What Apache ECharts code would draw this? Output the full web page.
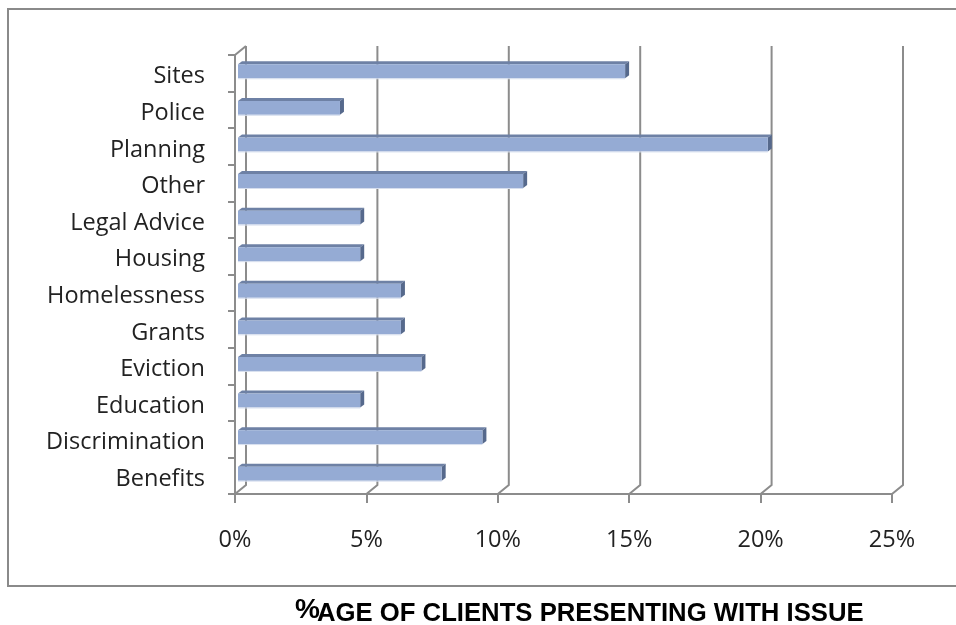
<!DOCTYPE html>
<html><head><meta charset="utf-8">
<script src="https://cdn.jsdelivr.net/npm/echarts@6/dist/echarts.min.js"></script>
<style>html,body{margin:0;padding:0;background:#fff}#c{width:956px;height:625px}</style>
</head><body><div id="c"></div>
<script>
const categories = ['Sites','Police','Planning','Other','Legal Advice','Housing','Homelessness','Grants','Eviction','Education','Discrimination','Benefits'];
const values = [14.73,3.88,20.16,10.85,4.65,4.65,6.20,6.20,6.98,4.65,9.30,7.75];
const xTicks = [0,5,10,15,20,25];
const titlePct = '%';
const titleText = 'AGE OF CLIENTS PRESENTING WITH ISSUE';

const chart = echarts.init(document.getElementById('c'), null, {renderer:'canvas'});
const DX = 11, DY = -9;      // wall depth offset
const BX = 3, BY = -2, BD = 4; // bar offsets / depth
const gridColor = '#8c8c8c';
const labelFont = {fontFamily:'Open Sans', fontSize:23.5, color:'#222'};

const option = {
  animation:false,
  grid:{left:235, top:55, width:657, height:439},
  xAxis:{type:'value', min:0, max:25, interval:5,
    axisLine:{show:true, lineStyle:{color:gridColor, width:2}},
    axisTick:{show:true, length:9, lineStyle:{color:gridColor, width:2}},
    splitLine:{show:false},
    axisLabel:Object.assign({formatter:'{value}%', margin:34}, labelFont)},
  yAxis:{type:'category', data:categories, inverse:true,
    axisLine:{show:true, lineStyle:{color:gridColor, width:2}},
    axisTick:{show:true, length:7, lineStyle:{color:gridColor, width:2}},
    axisLabel:{show:false}},
  graphic:[
    {type:'rect', shape:{x:8, y:9, width:960, height:577}, style:{fill:null, stroke:'#8a8a8a', lineWidth:2}, z:0},
    {type:'text', style:{x:295, y:610.5, text:titlePct, font:'bold 28px "Liberation Sans", Arial', fill:'#000', textAlign:'left', textVerticalAlign:'middle'}},
    {type:'text', style:{x:317, y:613.5, text:titleText, font:'bold 25.7px "Liberation Sans", Arial', fill:'#000', textAlign:'left', textVerticalAlign:'middle'}}
  ],
  series:[
    {type:'custom', coordinateSystem:'cartesian2d', silent:true, z:1,
     data: xTicks.map(v => [v, 0]),
     renderItem(params, api){
       const cs = params.coordSys;
       const v = api.value(0);
       const x = api.coord([v, 0])[0];
       const yb = cs.y + cs.height, yt = cs.y;
       const children = [{type:'polyline', shape:{points:[[x,yb],[x+DX,yb+DY],[x+DX,yt+DY]]}, style:{stroke:gridColor, lineWidth:2, fill:null}}];
       if (v === 0) children.push({type:'line', shape:{x1:x, y1:yt, x2:x+DX, y2:yt+DY}, style:{stroke:gridColor, lineWidth:2}});
       return {type:'group', children};
     }},
    {type:'custom', coordinateSystem:'cartesian2d', silent:true, z:2,
     data: categories.map((c,i) => [0, i]),
     renderItem(params, api){
       const ci = api.value(1);
       const p = api.coord([0, ci]);
       return {type:'text', style:{x:p[0]-30, y:p[1]+3.5, text:categories[ci], font:'23.5px "Open Sans"', fill:'#222', textAlign:'right', textVerticalAlign:'middle'}};
     }},
    {type:'custom', coordinateSystem:'cartesian2d', silent:true, z:3,
     data: values.map((v,i) => [v, i]),
     renderItem(params, api){
       const v = api.value(0), ci = api.value(1);
       const p0 = api.coord([0, ci]), p1 = api.coord([v, ci]);
       const band = api.size([0, 1])[1];
       const h = band * 0.38;
       const x0 = p0[0] + BX, x1 = p1[0] + BX, yc = p0[1] + BY;
       const yt = yc - h/2, yb = yc + h/2;
       const dy = -3;
       return {type:'group', children:[
         {type:'polygon', shape:{points:[[x0,yt],[x0+BD,yt+dy],[x1+BD,yt+dy],[x1,yt]]}, style:{fill:'#6e81a5'}},
         {type:'polygon', shape:{points:[[x1,yt],[x1+BD,yt+dy],[x1+BD,yb+dy],[x1,yb]]}, style:{fill:'#56698c'}},
         {type:'rect', shape:{x:x0, y:yt, width:x1-x0, height:h}, style:{fill:'#95abd4'}},
         {type:'line', shape:{x1:x0, y1:yb+0.5, x2:x1, y2:yb+0.5}, style:{stroke:'#d6deee', lineWidth:1}}
       ]};
     }}
  ]
};
chart.setOption(option);
</script></body></html>
